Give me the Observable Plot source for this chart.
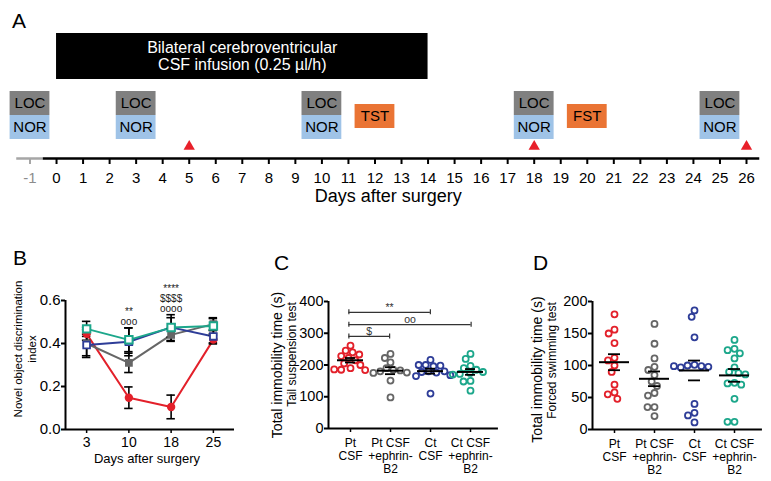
<!DOCTYPE html>
<html>
<head>
<meta charset="utf-8">
<script src="https://cdn.jsdelivr.net/npm/d3@7"></script>
<script src="https://cdn.jsdelivr.net/npm/@observablehq/plot@0.6"></script>
<style>
  body { margin: 0; background: #fff; }
  #fig { position: relative; width: 771px; height: 481px; overflow: hidden; font-family: "Liberation Sans", Arial, Helvetica, sans-serif; color: #000; }
  .letter { position: absolute; font-size: 21px; line-height: 21px; }
</style>
</head>
<body>
<div id="fig"></div>
<script>
// ---------------- DATA ----------------
// Panel A – timeline
const axisDays = [-1, 0, 1, 2, 3, 4, 5, 6, 7, 8, 9, 10, 11, 12, 13, 14, 15, 16, 17, 18, 19, 20, 21, 22, 23, 24, 25, 26];
const infusionDays = [0, 14];
const infusionLabel = ["Bilateral cerebroventricular", "CSF infusion (0.25 µl/h)"];
const locNorDays = [-1, 3, 10, 18, 25];
const testDays = [12, 20];
const testLabels = ["TST", "FST"];
const sampleDays = [5, 18, 26];
const timelineTitle = "Days after surgery";

// Groups (shared by B, C, D)
const groups = ["Pt CSF", "Pt CSF +ephrin-B2", "Ct CSF", "Ct CSF +ephrin-B2"];
const groupTicks = ["Pt\nCSF", "Pt CSF\n+ephrin-\nB2", "Ct\nCSF", "Ct CSF\n+ephrin-\nB2"];
const groupColors = ["#e3202a", "#666666", "#2e3d98", "#1ca78b"];

// Panel B – novel object discrimination index (mean ± SEM)
const bDays = ["3", "10", "18", "25"];
const bMeanPt  = [0.445, 0.148, 0.105, 0.418];
const bSemPt   = [0.030, 0.050, 0.055, 0.020];
const bMeanPtE = [0.400, 0.310, 0.440, 0.490];
const bSemPtE  = [0.065, 0.045, 0.030, 0.030];
const bMeanCt  = [0.393, 0.408, 0.475, 0.433];
const bSemCt   = [0.050, 0.065, 0.045, 0.030];
const bMeanCtE = [0.468, 0.417, 0.474, 0.481];
const bSemCtE  = [0.035, 0.055, 0.060, 0.035];
const bSigDays = ["10", "18"];
const bSigLabels = ["**\nooo", "****\n$$$$\noooo"];

// Panel C – tail suspension test (s)
const cPt  = [261, 245, 240, 233, 228, 222, 215, 205, 200, 190, 185, 184, 186];
const cPtE = [235, 222, 208, 190, 185, 183, 180, 176, 175, 151, 98];
const cCt  = [216, 200, 196, 198, 200, 180, 178, 176, 180, 165, 168, 110];
const cCtE = [235, 219, 197, 190, 185, 175, 172, 178, 170, 150, 148, 119];
const cBracketFrom = [0, 0, 0];
const cBracketTo = [2, 3, 1];
const cBracketLevel = [366, 327, 290];
const cBracketLabels = ["**", "oo", "$"];

// Panel D – forced swimming test (s)
const dPt  = [180, 156, 150, 135, 112, 108, 100, 90, 70, 58, 55, 48];
const dPtE = [165, 134, 111, 98, 93, 85, 75, 68, 57, 53, 35, 35, 21];
const dCt  = [186, 176, 144, 101, 100, 99, 98, 97, 99, 40, 26, 22, 11];
const dCtE = [140, 126, 124, 119, 111, 97, 90, 88, 86, 73, 72, 70, 48, 12, 12];

// ---------------- LAYOUT ----------------
const FONT = '"Liberation Sans", Arial, Helvetica, sans-serif';
const fig = document.getElementById("fig");
function place(node, left, top) {
  node.style.position = "absolute";
  node.style.left = left + "px";
  node.style.top = top + "px";
  fig.appendChild(node);
}
function letter(t, left, top) {
  const d = document.createElement("div");
  d.className = "letter";
  d.textContent = t;
  d.style.left = left + "px";
  d.style.top = top + "px";
  fig.appendChild(d);
}
const baseStyle = {fontFamily: FONT, overflow: "visible", background: "none", color: "black"};

// ---------------- PANEL A ----------------
const LA = {barTop: 33, barBottom: 79, barMid: 55.5, locTop: 91, locMid: 103, locBottom: 115, norMid: 127, norBottom: 139,
            testTop: 104, testMid: 116, testBottom: 128, marker: 146, axis: 158, tickEnd: 164, tickLabel: 178, title: 196};
const boxHalf = 0.75;
const firstDay = axisDays[0], lastDay = axisDays[axisDays.length - 1];
const aPlot = Plot.plot({
  width: 771, height: 220, marginLeft: 29.5, marginRight: 25, marginTop: 0, marginBottom: 0,
  axis: null,
  style: baseStyle,
  x: {domain: [firstDay, lastDay]},
  y: {domain: [0, 220], range: [0, 220]},
  marks: [
    Plot.rect([infusionDays], {x1: d => d[0], x2: d => d[1], y1: LA.barTop, y2: LA.barBottom, fill: "black"}),
    Plot.text([infusionLabel.join("\n")], {x: (infusionDays[0] + infusionDays[1]) / 2, y: LA.barMid, text: d => d, fill: "white", fontSize: 16, lineHeight: 1.08}),
    Plot.rect(locNorDays, {x1: d => d - boxHalf, x2: d => d + boxHalf, y1: LA.locTop, y2: LA.locBottom, fill: "#808080"}),
    Plot.rect(locNorDays, {x1: d => d - boxHalf, x2: d => d + boxHalf, y1: LA.locBottom, y2: LA.norBottom, fill: "#9fc3e7"}),
    Plot.text(locNorDays, {x: d => d, y: LA.locMid, text: () => "LOC", fontSize: 15}),
    Plot.text(locNorDays, {x: d => d, y: LA.norMid, text: () => "NOR", fontSize: 15}),
    Plot.rect(testDays, {x1: d => d - boxHalf, x2: d => d + boxHalf, y1: LA.testTop, y2: LA.testBottom, fill: "#ea7434"}),
    Plot.text(testDays, {x: d => d, y: LA.testMid, text: (d, i) => testLabels[i], fontSize: 15}),
    Plot.dot(sampleDays, {x: d => d, y: LA.marker, symbol: "triangle", r: 4.2, fill: "#e8202a"}),
    Plot.ruleY([0], {x1: firstDay - 0.5, x2: firstDay + 0.5, y: LA.axis, stroke: "#a6a6a6", strokeWidth: 2.5}),
    Plot.ruleY([0], {x1: firstDay + 0.5, x2: lastDay + 0.5, y: LA.axis, stroke: "black", strokeWidth: 2.5}),
    Plot.ruleX(axisDays.filter(d => d < 0), {x: d => d, y1: LA.axis, y2: LA.tickEnd, stroke: "#a6a6a6", strokeWidth: 2}),
    Plot.ruleX(axisDays.filter(d => d >= 0), {x: d => d, y1: LA.axis, y2: LA.tickEnd, stroke: "black", strokeWidth: 2}),
    Plot.text(axisDays.filter(d => d < 0), {x: d => d, y: LA.tickLabel, text: d => String(d), fontSize: 15, fill: "#8c8c8c"}),
    Plot.text(axisDays.filter(d => d >= 0), {x: d => d, y: LA.tickLabel, text: d => String(d), fontSize: 15}),
    Plot.text([timelineTitle], {x: (firstDay + lastDay) / 2, y: LA.title, text: d => d, fontSize: 18})
  ]
});
place(aPlot, 0, 0);

// ---------------- PANEL B ----------------
const bMeans = [bMeanPt, bMeanPtE, bMeanCt, bMeanCtE];
const bSems = [bSemPt, bSemPtE, bSemCt, bSemCtE];
const bRows = [];
bMeans.forEach((means, gi) => means.forEach((m, di) => bRows.push({group: groups[gi], gi, di, mean: m, sem: bSems[gi][di]})));
const bSigRows = bSigDays.map((day, k) => {
  const di = bDays.indexOf(day);
  return {di, label: bSigLabels[k], top: d3.max(bRows.filter(r => r.di === di), r => r.mean + r.sem)};
});
const capHalf = 0.1;
const bPlot = Plot.plot({
  width: 250, height: 250, marginLeft: 65, marginRight: 16, marginTop: 70, marginBottom: 51,
  style: baseStyle,
  x: {domain: [-0.5, bDays.length - 0.5]},
  y: {domain: [0, 0.6]},
  color: {domain: groups, range: groupColors},
  marks: [
    Plot.axisY({ticks: [0, 0.2, 0.4, 0.6], tickFormat: d3.format(".1f"), tickSize: 4, tickPadding: 1, fontSize: 15, strokeWidth: 2, label: null}),
    Plot.axisX({ticks: bDays.map((_, i) => i), tickFormat: i => bDays[i], tickSize: 4, tickPadding: 4, fontSize: 14, strokeWidth: 1.5, label: null}),
    Plot.ruleY([0], {strokeWidth: 2}),
    Plot.ruleX([-0.5], {y1: 0, y2: 0.6, strokeWidth: 2}),
    Plot.text(["Days after surgery"], {text: d => d, frameAnchor: "bottom", textAnchor: "middle", dx: -3, dy: 33, fontSize: 13}),
    Plot.text(["Novel object discrimination"], {text: d => d, frameAnchor: "left", textAnchor: "middle", rotate: -90, dx: -47, dy: -16, fontSize: 11.5}),
    Plot.text(["index"], {text: d => d, frameAnchor: "left", textAnchor: "middle", rotate: -90, dx: -33, dy: -16, fontSize: 11.5}),
    Plot.line(bRows, {x: "di", y: "mean", z: "group", stroke: "group", strokeWidth: 2}),
    Plot.ruleX(bRows, {x: "di", y1: d => d.mean - d.sem, y2: d => d.mean + d.sem, stroke: "black", strokeWidth: 1.6}),
    Plot.ruleY(bRows, {y: d => d.mean + d.sem, x1: d => d.di - capHalf, x2: d => d.di + capHalf, stroke: "black", strokeWidth: 1.6}),
    Plot.ruleY(bRows, {y: d => d.mean - d.sem, x1: d => d.di - capHalf, x2: d => d.di + capHalf, stroke: "black", strokeWidth: 1.6}),
    Plot.dot(bRows.filter(r => r.gi === 0), {x: "di", y: "mean", r: 4.2, fill: groupColors[0], symbol: "circle"}),
    Plot.dot(bRows.filter(r => r.gi === 1), {x: "di", y: "mean", r: 4.4, fill: groupColors[1], symbol: "square"}),
    Plot.dot(bRows.filter(r => r.gi === 2), {x: "di", y: "mean", r: 3.8, fill: "white", stroke: groupColors[2], strokeWidth: 1.8, symbol: "square"}),
    Plot.dot(bRows.filter(r => r.gi === 3), {x: "di", y: "mean", r: 4.2, fill: "white", stroke: groupColors[3], strokeWidth: 2, symbol: "square"}),
    Plot.text(bSigRows, {x: "di", y: "top", text: "label", lineAnchor: "bottom", dy: -3, fontSize: 10, lineHeight: 1.0, fill: "#222"})
  ]
});
place(bPlot, 0, 230);

// ---------------- PANELS C & D ----------------
function scatterPanel(cfg) {
  const rows = [];
  cfg.values.forEach((vals, gi) => vals.forEach(v => rows.push({group: groups[gi], value: v})));
  const stats = cfg.values.map((vals, gi) => {
    const m = d3.mean(vals), s = d3.deviation(vals) / Math.sqrt(vals.length);
    return {group: groups[gi], mean: m, lo: m - s, hi: m + s};
  });
  const dims = {width: cfg.width, height: cfg.height, marginLeft: cfg.mL, marginRight: cfg.mR, marginTop: cfg.mT, marginBottom: cfg.mB};
  const dots = Plot.plot({
    ...dims,
    style: baseStyle,
    fx: {domain: groups, padding: 0},
    y: {domain: cfg.yDomain, axis: null},
    color: {domain: groups, range: groupColors},
    marks: [
      Plot.axisFx({anchor: "bottom", tickFormat: g => groupTicks[groups.indexOf(g)], tickSize: 4, tickPadding: 5, fontSize: 12, lineHeight: 1.1, strokeWidth: 1.5, label: null}),
      Plot.dot(rows, Plot.dodgeX("middle", {fx: "group", y: "value", r: 3, padding: 1.6, stroke: "group", strokeWidth: 1.8, fill: "none"})),
      Plot.tickY(stats, {fx: "group", y: "mean", insetLeft: cfg.meanInset, insetRight: cfg.meanInset, stroke: "black", strokeWidth: 2}),
      Plot.ruleX(stats, {fx: "group", y1: "lo", y2: "hi", stroke: "black", strokeWidth: 1.8}),
      Plot.tickY(stats, {fx: "group", y: "lo", insetLeft: cfg.capInset, insetRight: cfg.capInset, stroke: "black", strokeWidth: 1.8}),
      Plot.tickY(stats, {fx: "group", y: "hi", insetLeft: cfg.capInset, insetRight: cfg.capInset, stroke: "black", strokeWidth: 1.8})
    ]
  });
  const brackets = (cfg.brackets || []);
  const ends = brackets.flatMap(b => [{x: b.from, y: b.level}, {x: b.to, y: b.level}]);
  const overlay = Plot.plot({
    ...dims,
    style: baseStyle,
    x: {domain: [-0.5, groups.length - 0.5], axis: null},
    y: {domain: cfg.yDomain},
    marks: [
      Plot.axisY({ticks: cfg.yTicks, tickSize: 4, tickPadding: 1, fontSize: 14.5, strokeWidth: 2, label: null}),
      Plot.ruleY([cfg.yDomain[0]], {x1: -0.5, x2: groups.length - 0.5 + cfg.axisExtra, strokeWidth: 2}),
      Plot.ruleX([-0.5], {y1: cfg.yDomain[0], y2: cfg.yDomain[1], strokeWidth: 2}),
      Plot.text([cfg.label1], {text: d => d, frameAnchor: "left", textAnchor: "middle", rotate: -90, dx: cfg.l1dx, dy: cfg.l1dy, fontSize: 14}),
      Plot.text([cfg.label2], {text: d => d, frameAnchor: "left", textAnchor: "middle", rotate: -90, dx: cfg.l2dx, dy: cfg.l2dy, fontSize: 12}),
      Plot.ruleY(brackets, {y: "level", x1: "from", x2: "to", stroke: "#333", strokeWidth: 1.2}),
      Plot.ruleX(ends, {x: "x", y1: d => d.y - cfg.endTick, y2: d => d.y + cfg.endTick, stroke: "#333", strokeWidth: 1.2}),
      Plot.text(brackets, {x: d => (d.from + d.to) / 2, y: "level", text: "label", dy: -5, fontSize: 10.5, fill: "#333"})
    ]
  });
  place(dots, cfg.left, cfg.top);
  place(overlay, cfg.left, cfg.top);
}

scatterPanel({
  left: 250, top: 230, width: 260, height: 250, mL: 78, mR: 19, mT: 71, mB: 52,
  values: [cPt, cPtE, cCt, cCtE],
  yDomain: [0, 400], yTicks: [0, 100, 200, 300, 400],
  meanInset: 7, capInset: 15, axisExtra: 0.17, endTick: 8,
  label1: "Total immobility time (s)", label2: "Tail suspension test",
  l1dx: -51, l1dy: 0, l2dx: -36, l2dy: -10.5,
  brackets: cBracketLabels.map((label, i) => ({label, from: cBracketFrom[i], to: cBracketTo[i], level: cBracketLevel[i]}))
});

scatterPanel({
  left: 510, top: 230, width: 261, height: 250, mL: 82, mR: 16, mT: 71, mB: 51,
  values: [dPt, dPtE, dCt, dCtE],
  yDomain: [0, 200], yTicks: [0, 50, 100, 150, 200],
  meanInset: 5, capInset: 14, axisExtra: 0.17, endTick: 4,
  label1: "Total immobility time (s)", label2: "Forced swimming test",
  l1dx: -55, l1dy: 4, l2dx: -40, l2dy: -5,
  brackets: []
});

// Panel letters
letter("A", 12, 10);
letter("B", 13, 247);
letter("C", 274, 252);
letter("D", 533, 252);
</script>
</body>
</html>
